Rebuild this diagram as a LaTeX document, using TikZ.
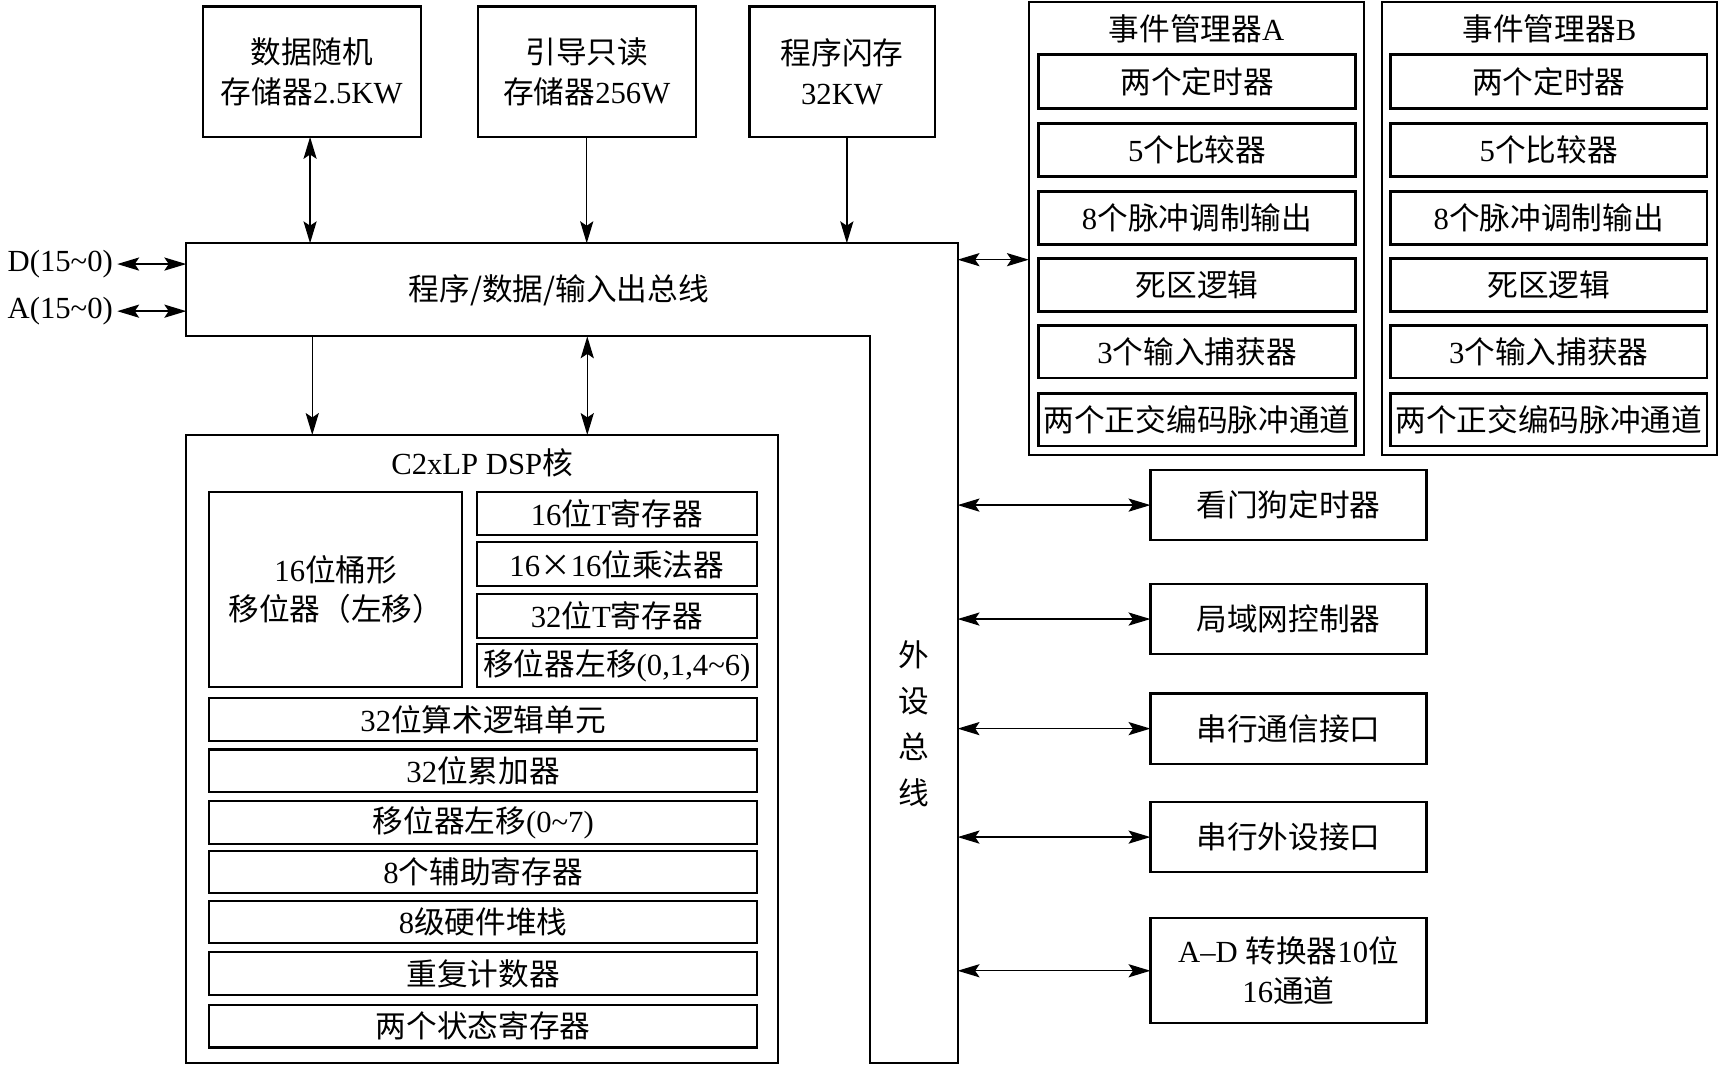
\documentclass[tikz,border=0pt]{standalone}
\usepackage{fontspec}
\setmainfont{Liberation Serif}
\newfontfamily\cjk{Noto Sans CJK SC}
\newfontfamily\latf{Liberation Serif}
\usetikzlibrary{arrows.meta}
\newcommand\LT[1]{{\latf #1}}
\newcommand\tld{{\latf\textasciitilde}}
\newcommand\drawbox[7][]{\node[box,#1,minimum width={(#5-#3)*0.5pt},minimum height={(#6-#4)*0.5pt}] (#2) at ({(#3+#5)/2},{(#4+#6)/2}) {#7};}
\tikzset{
  box/.style={draw, line width=1pt, inner sep=0pt, outer sep=0pt, align=center,
    font=\cjk\fontsize{14}{18}\selectfont},
  embox/.style={line width=1.3pt},
  txt/.style={inner sep=0pt, outer sep=0pt, align=center, font=\cjk\fontsize{14}{18}\selectfont},
  lat/.style={inner sep=0pt, outer sep=0pt, font=\latf\fontsize{14}{18}\selectfont},
  dar/.style={{Stealth[length=10pt,width=6pt,inset=2pt]}-{Stealth[length=10pt,width=6pt,inset=2pt]}, line width=0.65pt},
  sar/.style={-{Stealth[length=10pt,width=6pt,inset=2pt]}, line width=0.65pt}
}
\begin{document}
\begin{tikzpicture}[x=0.5pt,y=-0.5pt]
\useasboundingbox (0,0) rectangle (1568,973);

% memories
\drawbox{m1}{185}{6}{384}{125}{数据随机\\存储器\LT{2.5KW}}
\drawbox{m2}{436}{6}{635}{125}{引导只读\\存储器\LT{256W}}
\drawbox{m3}{684}{6}{853}{125}{程序闪存\\\LT{32KW}}

% bus outline
\draw[line width=1pt] (170,222) -- (874,222) -- (874,970) -- (794,970) -- (794,307) -- (170,307) -- cycle;
\node[txt] (bus) at (510,265) {程序/数据/输入出总线};
\node[txt, font=\cjk\fontsize{14}{21}\selectfont] (pbus) at (834,661) {外\\设\\总\\线};
\coordinate (bt) at (0,222);
\coordinate (bl) at (170,0);
\coordinate (br) at (874,0);
\coordinate (d1) at (285,307);
\coordinate (d2) at (536,307);
\coordinate (emar) at (874,237);

% D/A labels
\node[lat, anchor=east] (dl) at (103,241) {D(15\tld0)};
\node[lat, anchor=east] (al) at (103,284) {A(15\tld0)};

% DSP core
\drawbox{dsp}{170}{397}{710}{970}{}
\node[txt] (dspt) at (440,422) {\LT{C2xLP DSP}核};
\drawbox{bar}{191}{449}{422}{627}{\LT{16}位桶形\\移位器（左移）}
\drawbox{t16}{435}{449}{691}{488}{\LT{16}位\LT{T}寄存器}
\drawbox{mul}{435}{495}{691}{535}{\LT{16}×\LT{16}位乘法器}
\drawbox{t32}{435}{542}{691}{582}{\LT{32}位\LT{T}寄存器}
\drawbox{sh1}{435}{588}{691}{627}{移位器左移\LT{(0,1,4\tld6)}}
\drawbox{alu}{191}{637}{691}{676}{\LT{32}位算术逻辑单元}
\drawbox{acc}{191}{684}{691}{723}{\LT{32}位累加器}
\drawbox{sh2}{191}{731}{691}{770}{移位器左移\LT{(0\tld7)}}
\drawbox{aux}{191}{777}{691}{815}{\LT{8}个辅助寄存器}
\drawbox{stk}{191}{822}{691}{861}{\LT{8}级硬件堆栈}
\drawbox{rpt}{191}{869}{691}{908}{重复计数器}
\drawbox{sta}{191}{917}{691}{956}{两个状态寄存器}

% event managers
\drawbox{ema}{939}{2}{1245}{415}{}
\node[txt] (emat) at (1092,26) {事件管理器\LT{A}};
\drawbox[embox]{ea1}{948}{50}{1237}{99}{两个定时器}
\drawbox[embox]{ea2}{948}{113}{1237}{161}{\LT{5}个比较器}
\drawbox[embox]{ea3}{948}{175}{1237}{223}{\LT{8}个脉冲调制输出}
\drawbox[embox]{ea4}{948}{236}{1237}{284}{死区逻辑}
\drawbox[embox]{ea5}{948}{297}{1237}{345}{\LT{3}个输入捕获器}
\drawbox[embox]{ea6}{948}{359}{1237}{407}{两个正交编码脉冲通道}

\drawbox{emb}{1261}{2}{1567}{415}{}
\node[txt] (embt) at (1414,26) {事件管理器\LT{B}};
\drawbox[embox]{eb1}{1269}{50}{1558}{99}{两个定时器}
\drawbox[embox]{eb2}{1269}{113}{1558}{161}{\LT{5}个比较器}
\drawbox[embox]{eb3}{1269}{175}{1558}{223}{\LT{8}个脉冲调制输出}
\drawbox[embox]{eb4}{1269}{236}{1558}{284}{死区逻辑}
\drawbox[embox]{eb5}{1269}{297}{1558}{345}{\LT{3}个输入捕获器}
\drawbox[embox]{eb6}{1269}{359}{1558}{407}{两个正交编码脉冲通道}

% peripherals
\drawbox{wdt}{1050}{429}{1302}{493}{看门狗定时器}
\drawbox{can}{1050}{533}{1302}{597}{局域网控制器}
\drawbox{sci}{1050}{633}{1302}{697}{串行通信接口}
\drawbox{spi}{1050}{732}{1302}{796}{串行外设接口}
\drawbox{adc}{1050}{838}{1302}{934}{\LT{A–D }转换器\LT{10}位\\\LT{16}通道}

% connectors
\draw[dar] ([xshift=-0.75pt]m1.south) -- ([xshift=-0.75pt]m1.south |- bt);
\draw[sar] (m2.south) -- (m2.south |- bt);
\draw[sar] ([xshift=2.2pt]m3.south) -- ([xshift=2.2pt]m3.south |- bt);
\draw[sar] (d1) -- (d1 |- dsp.north);
\draw[dar] (d2) -- (d2 |- dsp.north);
\draw[dar] ([xshift=2pt]dl.east) -- (dl.east -| bl);
\draw[dar] ([xshift=2pt]al.east) -- (al.east -| bl);
\draw[dar] (emar) -- (emar -| ema.west);
\draw[dar] (wdt.west -| br) -- (wdt.west);
\draw[dar] (can.west -| br) -- (can.west);
\draw[dar] (sci.west -| br) -- (sci.west);
\draw[dar] (spi.west -| br) -- (spi.west);
\draw[dar] (adc.west -| br) -- (adc.west);
\end{tikzpicture}
\end{document}
